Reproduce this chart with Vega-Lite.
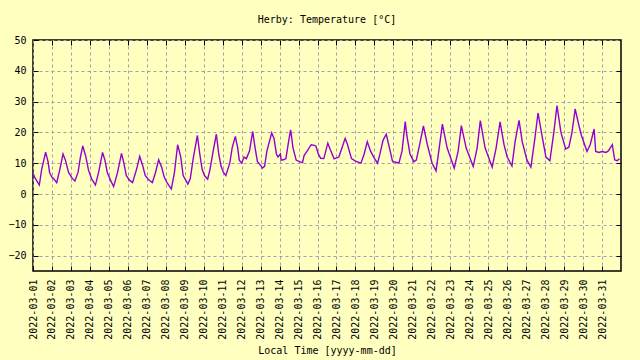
{
  "$schema": "https://vega.github.io/schema/vega-lite/v6.json",
  "autosize": {"type": "none"},
  "width": 588,
  "height": 231,
  "padding": {"left": 33, "top": 40, "right": 19, "bottom": 89},
  "background": "#ffffc0",
  "config": {
    "view": {"stroke": "#000000", "strokeWidth": 1.5, "fill": "#ffffc0"},
    "font": "DejaVu Sans Mono",
    "axis": {"labelFont": "DejaVu Sans Mono", "titleFont": "DejaVu Sans Mono", "labelFontSize": 10, "titleFontSize": 10, "labelColor": "#000000", "titleColor": "#000000", "titleFontWeight": "normal", "domain": false, "tickColor": "#000000", "gridColor": "#a0a0a8", "gridDash": [3, 3], "gridWidth": 1, "gridOpacity": 1}
  },
  "title": {"text": "Herby: Temperature [°C]", "font": "DejaVu Sans Mono", "fontSize": 10, "fontWeight": "normal", "color": "#000000", "anchor": "middle", "offset": 10},
  "data": {"values": [
    {"t":"2022-03-01T00:00","v":6.7},{"t":"2022-03-01T02:00","v":5.5},{"t":"2022-03-01T08:00","v":2.9},{"t":"2022-03-01T11:00","v":8},{"t":"2022-03-01T16:00","v":13.6},{"t":"2022-03-01T19:00","v":10.5},{"t":"2022-03-01T21:00","v":7},
    {"t":"2022-03-02T00:00","v":5.4},{"t":"2022-03-02T02:00","v":5},{"t":"2022-03-02T06:00","v":3.7},{"t":"2022-03-02T10:00","v":8},{"t":"2022-03-02T14:00","v":13.0},{"t":"2022-03-02T17:00","v":11},{"t":"2022-03-02T21:00","v":7},
    {"t":"2022-03-03T01:00","v":5.3},{"t":"2022-03-03T05:00","v":4.2},{"t":"2022-03-03T09:00","v":7},{"t":"2022-03-03T12:00","v":12},{"t":"2022-03-03T15:00","v":15.6},{"t":"2022-03-03T19:00","v":12},{"t":"2022-03-03T22:00","v":8},
    {"t":"2022-03-04T02:00","v":5},{"t":"2022-03-04T07:00","v":2.9},{"t":"2022-03-04T11:00","v":7},{"t":"2022-03-04T16:00","v":13.5},{"t":"2022-03-04T19:00","v":11},{"t":"2022-03-04T22:00","v":7},
    {"t":"2022-03-05T02:00","v":4.5},{"t":"2022-03-05T06:00","v":2.4},{"t":"2022-03-05T11:00","v":7},{"t":"2022-03-05T16:00","v":13.2},{"t":"2022-03-05T19:00","v":10},{"t":"2022-03-05T22:00","v":6},
    {"t":"2022-03-06T02:00","v":4.5},{"t":"2022-03-06T06:00","v":3.7},{"t":"2022-03-06T11:00","v":8},{"t":"2022-03-06T15:00","v":12.2},{"t":"2022-03-06T19:00","v":9},{"t":"2022-03-06T22:00","v":6},
    {"t":"2022-03-07T02:00","v":4.7},{"t":"2022-03-07T07:00","v":3.7},{"t":"2022-03-07T11:00","v":7},{"t":"2022-03-07T15:00","v":11.1},{"t":"2022-03-07T19:00","v":8.5},{"t":"2022-03-07T22:00","v":5.5},
    {"t":"2022-03-08T02:00","v":3.5},{"t":"2022-03-08T07:00","v":1.6},{"t":"2022-03-08T11:00","v":7},{"t":"2022-03-08T15:00","v":16.0},{"t":"2022-03-08T19:00","v":12},{"t":"2022-03-08T22:00","v":6},
    {"t":"2022-03-09T04:00","v":3.2},{"t":"2022-03-09T07:00","v":5},{"t":"2022-03-09T11:00","v":12},{"t":"2022-03-09T16:00","v":19.0},{"t":"2022-03-09T19:00","v":13},{"t":"2022-03-09T22:00","v":8},
    {"t":"2022-03-10T01:00","v":6},{"t":"2022-03-10T05:00","v":4.8},{"t":"2022-03-10T08:00","v":8},{"t":"2022-03-10T12:00","v":14},{"t":"2022-03-10T16:00","v":19.4},{"t":"2022-03-10T19:00","v":13},{"t":"2022-03-10T22:00","v":9},
    {"t":"2022-03-11T01:00","v":7},{"t":"2022-03-11T04:00","v":6},{"t":"2022-03-11T09:00","v":10},{"t":"2022-03-11T12:00","v":15},{"t":"2022-03-11T16:00","v":18.7},{"t":"2022-03-11T19:00","v":15},{"t":"2022-03-11T21:00","v":11},
    {"t":"2022-03-12T00:00","v":10},{"t":"2022-03-12T03:00","v":12},{"t":"2022-03-12T06:00","v":11.5},{"t":"2022-03-12T10:00","v":14},{"t":"2022-03-12T14:00","v":20.3},{"t":"2022-03-12T17:00","v":15},{"t":"2022-03-12T20:00","v":10.5},
    {"t":"2022-03-13T01:00","v":9},{"t":"2022-03-13T02:00","v":8.4},{"t":"2022-03-13T05:00","v":9},{"t":"2022-03-13T08:00","v":14},{"t":"2022-03-13T14:00","v":19.8},{"t":"2022-03-13T17:00","v":18},{"t":"2022-03-13T20:00","v":13},{"t":"2022-03-13T22:00","v":12},
    {"t":"2022-03-14T01:00","v":13},{"t":"2022-03-14T02:00","v":11},{"t":"2022-03-14T06:00","v":11.2},{"t":"2022-03-14T08:00","v":11.5},{"t":"2022-03-14T12:00","v":18},{"t":"2022-03-14T14:00","v":20.8},{"t":"2022-03-14T17:00","v":15},{"t":"2022-03-14T21:00","v":11},
    {"t":"2022-03-15T01:00","v":10.5},{"t":"2022-03-15T05:00","v":10.2},{"t":"2022-03-15T07:00","v":12.5},{"t":"2022-03-15T11:00","v":14},{"t":"2022-03-15T16:00","v":16},{"t":"2022-03-15T20:00","v":15.8},{"t":"2022-03-15T22:00","v":15.5},
    {"t":"2022-03-16T01:00","v":13},{"t":"2022-03-16T04:00","v":11.6},{"t":"2022-03-16T08:00","v":11.5},{"t":"2022-03-16T13:00","v":16.5},{"t":"2022-03-16T16:00","v":14.5},{"t":"2022-03-16T21:00","v":11.4},
    {"t":"2022-03-17T03:00","v":12},{"t":"2022-03-17T07:00","v":15},{"t":"2022-03-17T11:00","v":18.1},{"t":"2022-03-17T14:00","v":16},{"t":"2022-03-17T19:00","v":11.5},
    {"t":"2022-03-18T00:00","v":10.7},{"t":"2022-03-18T07:00","v":10.0},{"t":"2022-03-18T11:00","v":13},{"t":"2022-03-18T15:00","v":17.0},{"t":"2022-03-18T19:00","v":14},
    {"t":"2022-03-19T00:00","v":11.6},{"t":"2022-03-19T04:00","v":10},{"t":"2022-03-19T07:00","v":13},{"t":"2022-03-19T11:00","v":17.5},{"t":"2022-03-19T15:00","v":19.4},{"t":"2022-03-19T19:00","v":15},{"t":"2022-03-19T23:00","v":10.5},
    {"t":"2022-03-20T02:00","v":10.4},{"t":"2022-03-20T07:00","v":10},{"t":"2022-03-20T11:00","v":14},{"t":"2022-03-20T15:00","v":23.5},{"t":"2022-03-20T17:00","v":19},{"t":"2022-03-20T21:00","v":13},
    {"t":"2022-03-21T02:00","v":10.5},{"t":"2022-03-21T05:00","v":11},{"t":"2022-03-21T10:00","v":17},{"t":"2022-03-21T14:00","v":22.1},{"t":"2022-03-21T19:00","v":16},
    {"t":"2022-03-22T01:00","v":10},{"t":"2022-03-22T06:00","v":7.5},{"t":"2022-03-22T10:00","v":15},{"t":"2022-03-22T14:00","v":22.7},{"t":"2022-03-22T20:00","v":15},
    {"t":"2022-03-23T05:00","v":8.4},{"t":"2022-03-23T10:00","v":14},{"t":"2022-03-23T14:00","v":22.2},{"t":"2022-03-23T20:00","v":15},
    {"t":"2022-03-24T05:00","v":8.9},{"t":"2022-03-24T10:00","v":15},{"t":"2022-03-24T14:00","v":23.8},{"t":"2022-03-24T20:00","v":15},
    {"t":"2022-03-25T05:00","v":8.7},{"t":"2022-03-25T10:00","v":15},{"t":"2022-03-25T15:00","v":23.4},{"t":"2022-03-25T20:00","v":16},
    {"t":"2022-03-26T00:00","v":12},{"t":"2022-03-26T06:00","v":9.1},{"t":"2022-03-26T10:00","v":17},{"t":"2022-03-26T15:00","v":23.9},{"t":"2022-03-26T19:00","v":17},
    {"t":"2022-03-27T01:00","v":11},{"t":"2022-03-27T06:00","v":8.7},{"t":"2022-03-27T11:00","v":18},{"t":"2022-03-27T15:00","v":26.3},{"t":"2022-03-27T20:00","v":19},
    {"t":"2022-03-28T01:00","v":12},{"t":"2022-03-28T06:00","v":10.8},{"t":"2022-03-28T11:00","v":20},{"t":"2022-03-28T15:00","v":28.7},{"t":"2022-03-28T20:00","v":20},
    {"t":"2022-03-29T02:00","v":14.6},{"t":"2022-03-29T06:00","v":15.2},{"t":"2022-03-29T10:00","v":20},{"t":"2022-03-29T14:00","v":27.6},{"t":"2022-03-29T19:00","v":22},{"t":"2022-03-29T22:00","v":19},
    {"t":"2022-03-30T02:00","v":16},{"t":"2022-03-30T05:00","v":13.8},{"t":"2022-03-30T09:00","v":16},{"t":"2022-03-30T14:00","v":21.1},{"t":"2022-03-30T16:00","v":13.8},{"t":"2022-03-30T20:00","v":13.5},
    {"t":"2022-03-31T00:00","v":13.8},{"t":"2022-03-31T05:00","v":13.5},{"t":"2022-03-31T08:00","v":14},{"t":"2022-03-31T13:00","v":16},{"t":"2022-03-31T16:00","v":11.1},{"t":"2022-03-31T19:00","v":10.8},{"t":"2022-03-31T22:00","v":11.4}
  ]},
  "layer": [
    {
      "mark": {"type": "line", "opacity": 0},
      "encoding": {
        "x": {"field": "t", "type": "temporal",
          "scale": {"domain": [{"year": 2022, "month": 3, "date": 1}, {"year": 2022, "month": 4, "date": 1}]},
          "axis": {"orient": "top", "title": null, "labels": false, "grid": false, "tickSize": -5,
            "values": [{"year":2022,"month":3,"date":2},{"year":2022,"month":3,"date":3},{"year":2022,"month":3,"date":4},{"year":2022,"month":3,"date":5},{"year":2022,"month":3,"date":6},{"year":2022,"month":3,"date":7},{"year":2022,"month":3,"date":8},{"year":2022,"month":3,"date":9},{"year":2022,"month":3,"date":10},{"year":2022,"month":3,"date":11},{"year":2022,"month":3,"date":12},{"year":2022,"month":3,"date":13},{"year":2022,"month":3,"date":14},{"year":2022,"month":3,"date":15},{"year":2022,"month":3,"date":16},{"year":2022,"month":3,"date":17},{"year":2022,"month":3,"date":18},{"year":2022,"month":3,"date":19},{"year":2022,"month":3,"date":20},{"year":2022,"month":3,"date":21},{"year":2022,"month":3,"date":22},{"year":2022,"month":3,"date":23},{"year":2022,"month":3,"date":24},{"year":2022,"month":3,"date":25},{"year":2022,"month":3,"date":26},{"year":2022,"month":3,"date":27},{"year":2022,"month":3,"date":28},{"year":2022,"month":3,"date":29},{"year":2022,"month":3,"date":30},{"year":2022,"month":3,"date":31}]}},
        "y": {"field": "v", "type": "quantitative",
          "scale": {"domain": [-25, 50], "nice": false, "zero": false},
          "axis": {"orient": "right", "title": null, "labels": false, "grid": false, "tickSize": -5, "values": [-20, -10, 0, 10, 20, 30, 40]}}
      }
    },
    {
      "mark": {"type": "line", "color": "#9400d3", "strokeWidth": 1.4, "interpolate": "linear"},
      "encoding": {
        "x": {"field": "t", "type": "temporal",
          "scale": {"domain": [{"year": 2022, "month": 3, "date": 1}, {"year": 2022, "month": 4, "date": 1}]},
          "axis": {"orient": "bottom", "grid": true, "title": "Local Time [yyyy-mm-dd]", "format": "%Y-%m-%d", "labelAngle": -90, "labelAlign": "right", "labelBaseline": "middle", "tickSize": -5, "labelPadding": 13, "titleY": 82, "titleBaseline": "alphabetic", "labelFlush": false, "labelOverlap": false,
            "values": [{"year":2022,"month":3,"date":1},{"year":2022,"month":3,"date":2},{"year":2022,"month":3,"date":3},{"year":2022,"month":3,"date":4},{"year":2022,"month":3,"date":5},{"year":2022,"month":3,"date":6},{"year":2022,"month":3,"date":7},{"year":2022,"month":3,"date":8},{"year":2022,"month":3,"date":9},{"year":2022,"month":3,"date":10},{"year":2022,"month":3,"date":11},{"year":2022,"month":3,"date":12},{"year":2022,"month":3,"date":13},{"year":2022,"month":3,"date":14},{"year":2022,"month":3,"date":15},{"year":2022,"month":3,"date":16},{"year":2022,"month":3,"date":17},{"year":2022,"month":3,"date":18},{"year":2022,"month":3,"date":19},{"year":2022,"month":3,"date":20},{"year":2022,"month":3,"date":21},{"year":2022,"month":3,"date":22},{"year":2022,"month":3,"date":23},{"year":2022,"month":3,"date":24},{"year":2022,"month":3,"date":25},{"year":2022,"month":3,"date":26},{"year":2022,"month":3,"date":27},{"year":2022,"month":3,"date":28},{"year":2022,"month":3,"date":29},{"year":2022,"month":3,"date":30},{"year":2022,"month":3,"date":31}]}},
        "y": {"field": "v", "type": "quantitative",
          "scale": {"domain": [-25, 50], "nice": false, "zero": false},
          "axis": {"orient": "left", "grid": true, "title": null, "tickSize": -5, "labelPadding": 12, "values": [-20, -10, 0, 10, 20, 30, 40, 50], "labelFlush": false}}
      }
    }
  ],
  "resolve": {"axis": {"x": "independent", "y": "independent"}}
}
